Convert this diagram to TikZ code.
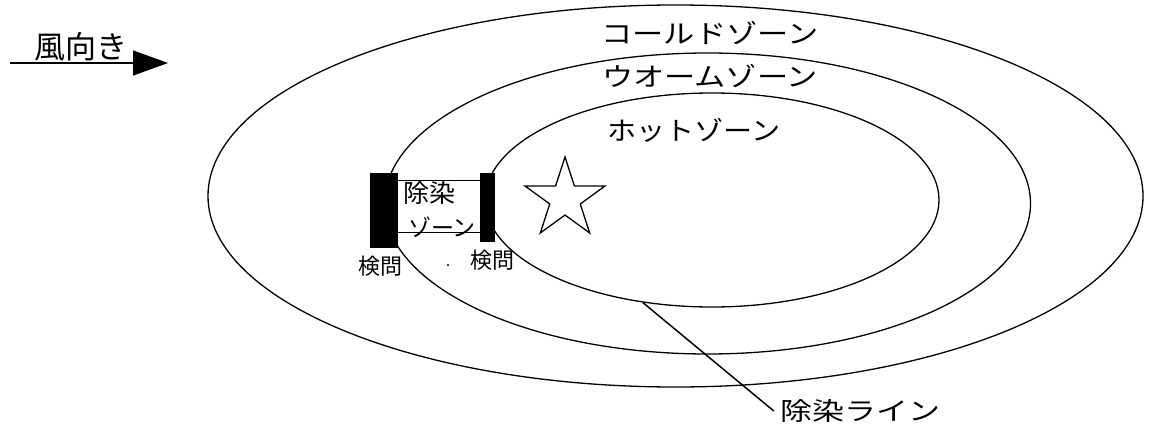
\documentclass[tikz,border=0pt]{standalone}
\usepackage{fontspec}
\setmainfont{Noto Sans CJK JP}
\usetikzlibrary{shapes.geometric,arrows.meta}
\newcommand\jp[3]{\fontsize{#1}{#1}\selectfont\scalebox{#2}[1]{#3}}
\begin{document}
\begin{tikzpicture}[x=1pt,y=-1pt,
  zone/.style={draw,ellipse,line width=1.3pt,inner sep=0pt},
  lbl/.style={inner sep=0pt},
  gatebox/.style={draw,fill=black,line width=0.8pt,inner sep=0pt},
]
\useasboundingbox (0,0) rectangle (1149,428);
% zones
\node[zone,minimum width=935pt,minimum height=382pt] (cold) at (675.5,196) {};
\node[zone,minimum width=646pt,minimum height=301pt] (warm) at (707.5,203.5) {};
\node[zone,minimum width=454pt,minimum height=214pt] (hot) at (712,200) {};
% decontamination zone
\node[draw,line width=0.8pt,inner sep=0pt,minimum width=83pt,minimum height=52pt] (dz) at (438.5,206) {};
\node[gatebox,minimum width=27pt,minimum height=74pt] (gL) at (383.5,210) {};
\node[gatebox,minimum width=14pt,minimum height=68pt] (gR) at (487,207) {};
\node[lbl] (dzt1) at (429,193) {\jp{25}{1.04}{除染}};
\node[lbl] (dzt2) at (442,227) {\jp{23}{1}{ゾーン}};
\node[lbl] (kL) at (380,266) {\jp{22}{1}{検問}};
\node[lbl] (kR) at (492,260) {\jp{22}{1}{検問}};
\fill (448,265) circle (1.2pt);
% star
\node[draw,star,star points=5,star point ratio=2.618,minimum size=84pt,inner sep=0pt,line width=1.3pt] (hz) at (565,199) {};
% zone labels
\node[lbl] (lc) at (710,33) {\jp{26}{1.2}{コールドゾーン}};
\node[lbl] (lw) at (710,76) {\jp{26}{1.2}{ウオームゾーン}};
\node[lbl] (lh) at (694,130) {\jp{26}{1.12}{ホットゾーン}};
% wind
\node[lbl] (wt) at (81,47) {\jp{31}{1}{風向き}};
\coordinate (w0) at (10,63);
\coordinate (w1) at (168,63);
\draw[line width=1.2pt,-{Triangle[length=35pt,width=25pt]}] (w0) -- (w1);
% decontamination line
\node[lbl] (dl) at (860,411) {\jp{25}{1.28}{除染ライン}};
\draw[line width=1.5pt] (hot.236) -- ([xshift=-6pt]dl.west);
\end{tikzpicture}
\end{document}
